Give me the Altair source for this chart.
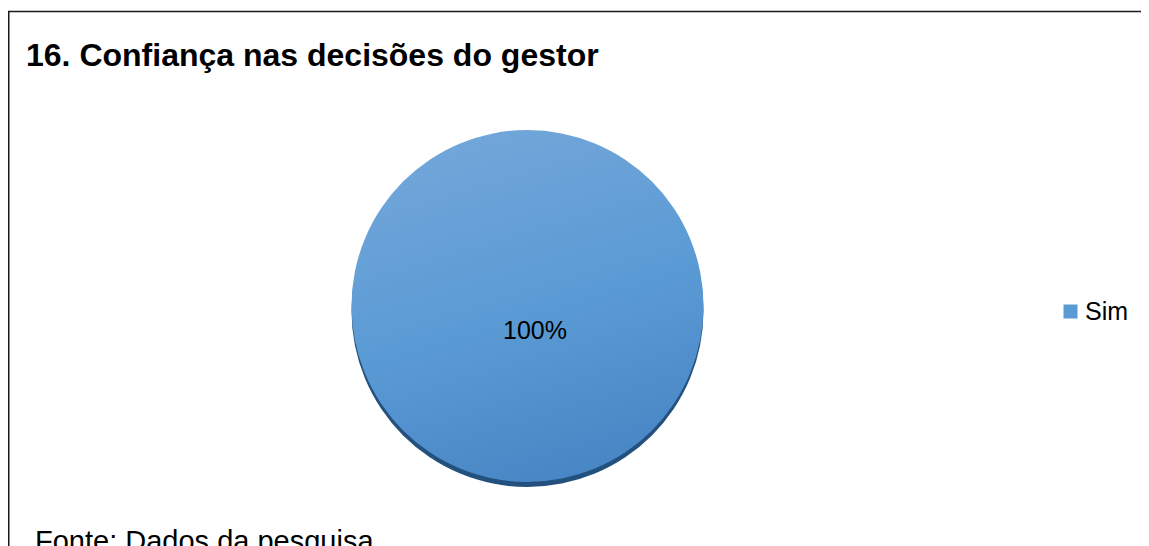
import altair as alt
import pandas as pd

# Data
categories = ["Sim"]
values = [100]
title_text = ["16. Confiança nas decisões do gestor"]
source_text = ["Fonte: Dados da pesquisa"]

df = pd.DataFrame({"categoria": categories, "valor": values})

W, H = 1133, 538
CX, CY, R = 519.5, 298, 176
FONT = "Liberation Sans"

base = alt.Chart(df)

top_line = base.mark_rule(stroke="#1a1a1a", strokeWidth=1.5).encode(
    x=alt.value(0), x2=alt.value(W), y=alt.value(3.5)
)
left_line = base.mark_rule(stroke="#1a1a1a", strokeWidth=1.5).encode(
    x=alt.value(0.75), y=alt.value(3.5), y2=alt.value(H)
)

edge = base.mark_arc(radius=R, fill="#24507e").encode(
    theta=alt.Theta("valor:Q", stack=True),
    x=alt.value(CX), y=alt.value(CY + 5),
)

face = base.mark_arc(
    radius=R,
    fill=alt.Gradient(
        gradient="linear",
        stops=[
            alt.GradientStop(color="#72a6d9", offset=0),
            alt.GradientStop(color="#5b9bd5", offset=0.5),
            alt.GradientStop(color="#4785c4", offset=1),
        ],
        x1=0.35, y1=0, x2=0.65, y2=1,
    ),
).encode(
    theta=alt.Theta("valor:Q", stack=True),
    x=alt.value(CX), y=alt.value(CY),
)

legend_layer = base.mark_arc(radius=0).encode(
    theta=alt.Theta("valor:Q", stack=True),
    color=alt.Color(
        "categoria:N",
        scale=alt.Scale(range=["#5b9bd5"]),
        legend=alt.Legend(
            orient="none", legendX=1050, legendY=291, title=None,
            symbolType="square", symbolSize=196, symbolStrokeWidth=0,
            labelFontSize=25, labelFont=FONT, labelColor="black",
            labelOffset=2, padding=0,
        ),
    ),
)

label = base.transform_joinaggregate(total="sum(valor)").transform_calculate(
    pct="datum.valor / datum.total"
).mark_text(font=FONT, fontSize=25, color="black", baseline="middle", align="center").encode(
    text=alt.Text("pct:Q", format=".0%"),
    x=alt.value(527), y=alt.value(323),
)

title = alt.Chart(pd.DataFrame({"t": title_text})).mark_text(
    font=FONT, fontSize=32, fontWeight="bold", color="black", align="left", baseline="alphabetic"
).encode(text="t:N", x=alt.value(18), y=alt.value(58))

source = alt.Chart(pd.DataFrame({"t": source_text})).mark_text(
    font=FONT, fontSize=29, color="black", align="left", baseline="alphabetic"
).encode(text="t:N", x=alt.value(27), y=alt.value(543))

chart = alt.layer(top_line, left_line, edge, face, legend_layer, label, title, source).properties(
    width=W, height=H, autosize="none", padding=0
).configure_view(stroke=None)

chart.save("out.html", embed_options={"renderer": "svg", "actions": False})
